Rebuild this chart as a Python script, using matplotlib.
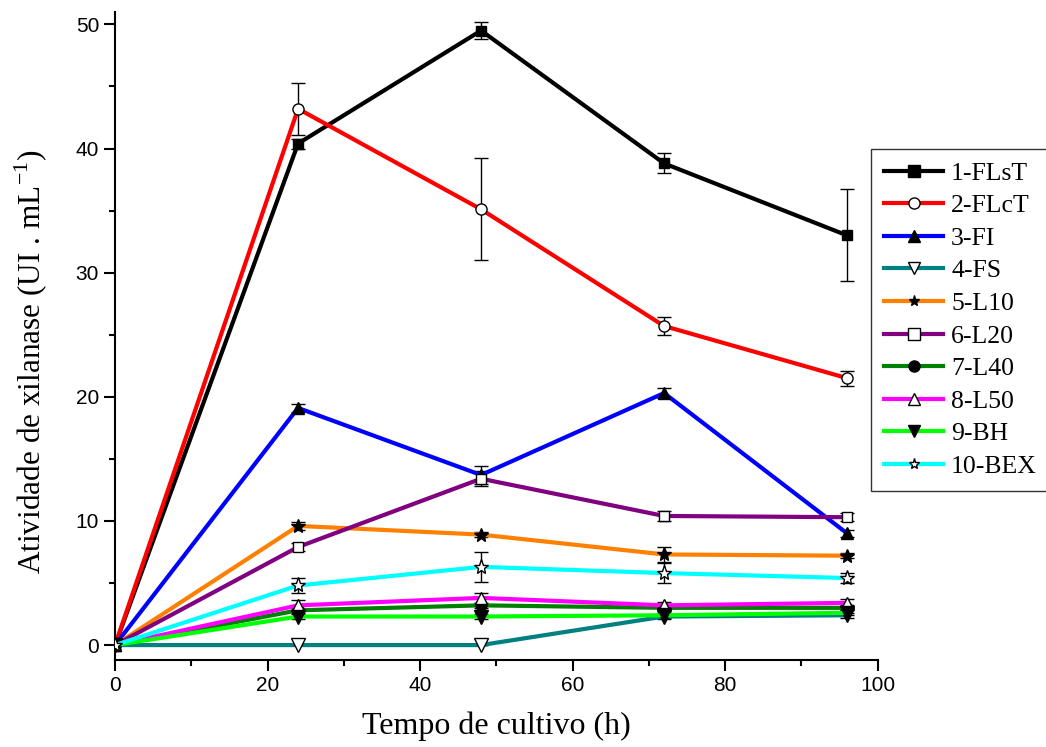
import matplotlib
matplotlib.use("Agg")
import matplotlib.pyplot as plt
from matplotlib.ticker import MultipleLocator

time_h = [0, 24, 48, 72, 96]
labels = ["1-FLsT", "2-FLcT", "3-FI", "4-FS", "5-L10", "6-L20", "7-L40", "8-L50", "9-BH", "10-BEX"]
flst = [0, 40.4, 49.5, 38.8, 33.0]
flst_err = [0, 0.4, 0.7, 0.8, 3.7]
flct = [0, 43.2, 35.1, 25.7, 21.5]
flct_err = [0, 2.1, 4.1, 0.7, 0.6]
fi = [0, 19.1, 13.7, 20.3, 9.0]
fi_err = [0, 0.3, 0.7, 0.4, 0.3]
fs = [0, 0, 0, 2.3, 2.4]
fs_err = [0, 0, 0, 0.2, 0.2]
l10 = [0, 9.6, 8.9, 7.3, 7.2]
l10_err = [0, 0.3, 0.2, 0.6, 0.2]
l20 = [0, 7.9, 13.4, 10.4, 10.3]
l20_err = [0, 0.3, 0.6, 0.4, 0.3]
l40 = [0, 2.8, 3.2, 3.0, 3.0]
l40_err = [0, 0.2, 0.2, 0.2, 0.2]
l50 = [0, 3.2, 3.8, 3.2, 3.4]
l50_err = [0, 0.4, 0.4, 0.3, 0.3]
bh = [0, 2.3, 2.3, 2.4, 2.6]
bh_err = [0, 0.2, 0.2, 0.2, 0.2]
bex = [0, 4.8, 6.3, 5.8, 5.4]
bex_err = [0, 0.6, 1.2, 0.8, 0.4]

series = [flst, flct, fi, fs, l10, l20, l40, l50, bh, bex]
errors = [flst_err, flct_err, fi_err, fs_err, l10_err, l20_err, l40_err, l50_err, bh_err, bex_err]
colors = ["black", "#ff0000", "#0000ff", "#008080", "#ff8000", "#800080", "#008000", "#ff00ff", "#00ff00", "#00ffff"]
markers = ["s", "o", "^", "v", "*", "s", "o", "^", "v", "*"]
filled = [True, False, True, False, True, False, True, False, True, False]
msizes = [7, 8, 8, 10, 10, 7, 8, 9, 10, 11]

fig = plt.figure(figsize=(10.46, 7.47), dpi=100)
ax = fig.add_axes([0.110, 0.1165, 0.729, 0.8675])

for y, e, c, m, f, ms, lab in zip(series, errors, colors, markers, filled, msizes, labels):
    ax.errorbar(time_h, y, yerr=e, fmt="none", ecolor="black", elinewidth=1, capsize=5, capthick=1, zorder=2)
    ax.plot(time_h, y, color=c, lw=3, marker=m, markersize=ms,
            markerfacecolor="black" if f else "white", markeredgecolor="black",
            markeredgewidth=1, label=lab, zorder=3)

ax.set_xlim(0, 100)
ax.set_ylim(-1.2, 51)
ax.xaxis.set_major_locator(MultipleLocator(20))
ax.xaxis.set_minor_locator(MultipleLocator(10))
ax.yaxis.set_major_locator(MultipleLocator(10))
ax.yaxis.set_minor_locator(MultipleLocator(5))
ax.spines["top"].set_visible(False)
ax.spines["right"].set_visible(False)
for s in ["left", "bottom"]:
    ax.spines[s].set_linewidth(1.5)
ax.tick_params(which="major", direction="out", length=8, width=1.5, labelsize=15)
ax.tick_params(which="minor", direction="out", length=4, width=1.5)
for t in ax.get_xticklabels() + ax.get_yticklabels():
    t.set_fontfamily("Liberation Sans")

ax.set_xlabel("Tempo de cultivo (h)", fontsize=23, family="Liberation Serif", labelpad=12)
ax.set_ylabel(r"Atividade de xilanase (UI . mL$^{\mathregular{-1}}$)", fontsize=22.5, family="Liberation Serif")
ax.yaxis.set_label_coords(-0.085, 0.46)

leg = ax.legend(loc="upper left", bbox_to_anchor=(0.992, 0.789), prop={"family": "Liberation Serif", "size": 18.5},
                frameon=True, fancybox=False, edgecolor="black", handlelength=2.3, labelspacing=0.375,
                borderpad=0.5, handletextpad=0.3, borderaxespad=0)
leg.get_frame().set_linewidth(1)
for line in leg.get_lines():
    line.set_markersize(8)

fig.savefig("out.png", dpi=100)
